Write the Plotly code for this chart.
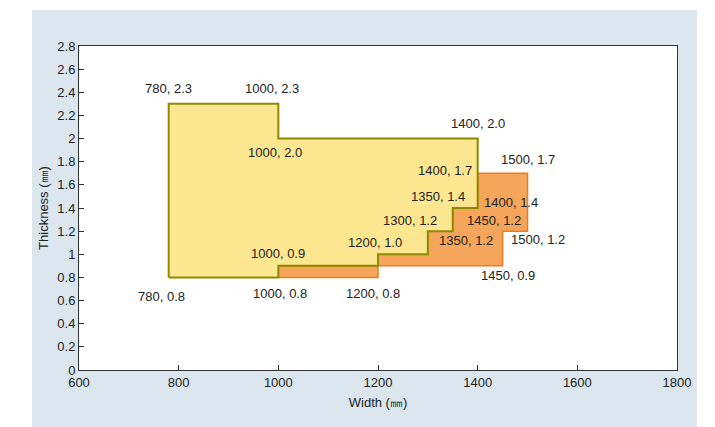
import plotly.graph_objects as go

# Yellow region (standard range)
yellow_w = [780, 780, 1000, 1000, 1400, 1400, 1350, 1350, 1300, 1300, 1200, 1200, 1000, 1000, 780]
yellow_t = [0.8, 2.3, 2.3, 2.0, 2.0, 1.4, 1.4, 1.2, 1.2, 1.0, 1.0, 0.9, 0.9, 0.8, 0.8]

# Orange region (extended range)
orange_w = [1000, 1200, 1200, 1450, 1450, 1500, 1500, 1400, 1400, 1350, 1350, 1300, 1300, 1200, 1200, 1000, 1000]
orange_t = [0.8, 0.8, 0.9, 0.9, 1.2, 1.2, 1.7, 1.7, 1.4, 1.4, 1.2, 1.2, 1.0, 1.0, 0.9, 0.9, 0.8]

# Corner labels
label_w = [780, 1000, 1000, 1400, 1500, 1400, 1350, 1400, 1300, 1450, 1350, 1500, 1200, 1450, 1000, 780, 1000, 1200]
label_t = [2.3, 2.3, 2.0, 2.0, 1.7, 1.7, 1.4, 1.4, 1.2, 1.2, 1.2, 1.2, 1.0, 0.9, 0.9, 0.8, 0.8, 0.8]
# pixel offsets of each label from its corner (style only)
label_dx = [0, -6, -3, 0, 0, -33, -15, 33, -18, -9, 13, 10, -3, 5, 0, -7, 2, -5]
label_dy = [15, 15, -14, 15, 14, 3, 12, 6, 11, 11, -9, -8, 12, -10, 12, -19, -16, -16]

x_ticks = [600, 800, 1000, 1200, 1400, 1600, 1800]
y_ticks = [0, 0.2, 0.4, 0.6, 0.8, 1, 1.2, 1.4, 1.6, 1.8, 2, 2.2, 2.4, 2.6, 2.8]
y_ticklabels = ["0", "0.2", "0.4", "0.6", "0.8", "1", "1.2", "1.4", "1.6", "1.8", "2", "2.2", "2.4", "2.6", "2.8"]

FONT = "Liberation Sans, Arial, Helvetica"

fig = go.Figure()
fig.add_trace(go.Scatter(x=orange_w, y=orange_t, mode="lines", fill="toself",
                         fillcolor="#F5A65B", line=dict(color="#F07A22", width=1.5),
                         hoverinfo="skip", showlegend=False))
fig.add_trace(go.Scatter(x=yellow_w, y=yellow_t, mode="lines", fill="toself",
                         fillcolor="#FDE690", line=dict(color="#8C8A00", width=2),
                         hoverinfo="skip", showlegend=False))

for w, t, dx, dy in zip(label_w, label_t, label_dx, label_dy):
    fig.add_annotation(x=w, y=t, text=f"{w}, {t:.1f}", showarrow=False,
                       xshift=dx, yshift=dy,
                       font=dict(family=FONT, size=13, color="#222222"))

# background panel and white plot area
fig.add_shape(type="rect", xref="paper", yref="paper", x0=-0.0786, x1=1.0334, y0=-0.2, y1=1.111,
              fillcolor="#DCE6EE", line=dict(width=0), layer="below")
fig.add_shape(type="rect", xref="paper", yref="paper", x0=0, x1=1, y0=0, y1=1,
              fillcolor="white", line=dict(width=0), layer="below")

fig.update_layout(
    width=707, height=419,
    margin=dict(l=71, r=38, t=38, b=57),
    paper_bgcolor="white", plot_bgcolor="white",
    font=dict(family=FONT, size=13, color="#222222"),
    showlegend=False,
)
fig.update_xaxes(range=[600, 1800], tickvals=x_ticks, ticks="inside", ticklen=5,
                 tickcolor="#333333", showgrid=False, zeroline=False,
                 showline=True, linecolor="#333333", linewidth=1, mirror=True,
                 tickfont=dict(size=13),
                 title=dict(text="Width (㎜)", standoff=9, font=dict(family=FONT, size=13)))
fig.update_yaxes(range=[0, 2.8], tickvals=y_ticks, ticktext=y_ticklabels, ticks="inside", ticklen=5,
                 tickcolor="#333333", showgrid=False, zeroline=False,
                 showline=True, linecolor="#333333", linewidth=1, mirror=True,
                 tickfont=dict(size=13),
                 title=dict(text="Thickness (㎜)", standoff=5, font=dict(family=FONT, size=13)))

fig.write_html("out.html")
